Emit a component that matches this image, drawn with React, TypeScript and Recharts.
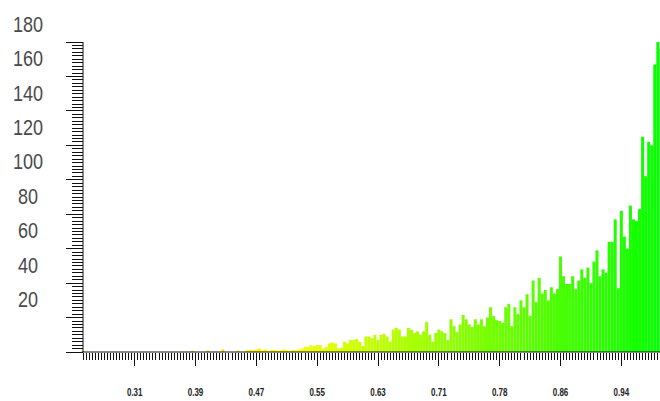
import { BarChart, Bar, XAxis, YAxis, Cell } from "recharts";

// histogram bins are i/255, first visible bin is 63
const FIRST_BIN = 63;

// counts for bins 63..127
const countsLow = [
  0.5, 0, 0, 0, 0, 0, 0, 0, 0, 0, 0, 0, 0, 0, 0, 0, 0, 0, 0, 0,
  0, 0, 0, 0, 0, 0, 0, 0, 0, 0, 0, 0, 0, 0, 0, 0, 0.6, 0, 0, 0,
  0, 0.8, 0, 0, 0, 0, 1.5, 0, 0, 0, 0, 0.8, 0, 0, 1, 1.2, 1, 1.5,
  2, 1, 1.5, 0.5, 1, 1.2, 0.8,
];

// counts for bins 128..191
const countsMid = [
  1, 1.5, 1, 0.7, 1.2, 1, 1.5, 2, 3, 3, 4, 3.5, 4, 4, 2, 3, 5, 5.5, 5, 2,
  2.5, 6, 5, 7, 7, 7.5, 6, 3.5, 9, 9, 8, 10, 7, 10, 10.5, 9, 6, 13, 14, 13,
  9, 9, 14, 13, 11, 12, 10, 12, 17.5, 10, 6, 11, 13, 12, 11, 7, 19, 15, 11.5, 16,
  21.5, 19, 16, 14.5,
];

// counts for bins 192..255
const countsHigh = [
  19, 16, 19, 15, 20, 26, 21, 18.5, 18, 17, 26, 28, 15, 26, 22, 30, 26, 33.5,
  21, 41.5, 29, 43, 34, 36, 30, 37.6, 34, 36.5, 55.4, 44, 39.5, 39.5, 44, 36.5,
  41.5, 48, 43, 49, 40, 52.5, 59, 44, 48, 46, 64, 64, 77, 37, 82, 67, 60, 85,
  77, 76, 83, 125, 102, 122, 120, 167, 180, 176, 170, 165,
];

const xMajorBins = [80, 100, 120, 140, 160, 180, 200, 220, 240];
const xTickLabels = ["0.31", "0.39", "0.47", "0.55", "0.63", "0.71", "0.78", "0.86", "0.94"];
const yMajorTicks = [20, 40, 60, 80, 100, 120, 140, 160, 180];

const allCounts = [...countsLow, ...countsMid, ...countsHigh];
const data = allCounts.map((count, k) => ({ bin: FIRST_BIN + k, count }));
const xTicks = data.map((d) => d.bin);
const yTicks: number[] = [];
for (let v = 0; v <= 180; v += 2) yTicks.push(v);

const FONT = "'Liberation Sans', Arial, sans-serif";

function XTick(props: any) {
  const { x, y, payload } = props;
  const k = xMajorBins.indexOf(payload.value);
  const major = k >= 0;
  return (
    <g>
      <line
        x1={x}
        x2={x}
        y1={y + 1}
        y2={y + (major ? 14 : 8)}
        stroke="#111"
        strokeWidth={1}
        shapeRendering="crispEdges"
      />
      {major && (
        <text
          transform={`translate(${x},${y + 41}) scale(0.8,1)`}
          textAnchor="middle"
          dominantBaseline="central"
          fontSize={10}
          fontWeight="bold"
          fontFamily={FONT}
          fill="#222"
        >
          {xTickLabels[k]}
        </text>
      )}
    </g>
  );
}

function YTick(props: any) {
  const { x, y, payload } = props;
  const v = payload.value as number;
  const major = v % 20 === 0;
  return (
    <g>
      <line
        x1={x - (major ? 17 : 11)}
        x2={x}
        y1={y}
        y2={y}
        stroke="#111"
        strokeWidth={1}
        shapeRendering="crispEdges"
      />
      {major && yMajorTicks.includes(v) && (
        <text
          transform={`translate(${x - 55},${y - 18}) scale(0.82,1)`}
          textAnchor="middle"
          dominantBaseline="central"
          fontSize={22}
          fontFamily={FONT}
          fill="#4a4a4a"
        >
          {v}
        </text>
      )}
    </g>
  );
}

export default function App() {
  return (
    <div
      style={{
        position: "fixed",
        left: 0,
        top: 0,
        width: 660,
        height: 401,
        overflow: "hidden",
        background: "#fff",
      }}
    >
      <BarChart
        width={700}
        height={401}
        data={data}
        margin={{ top: 42, right: 30, bottom: 0, left: 0 }}
        barCategoryGap={0}
        barGap={0}
      >
        <XAxis
          type="number"
          dataKey="bin"
          domain={[FIRST_BIN, 256]}
          ticks={xTicks}
          interval={0}
          tick={(p: any) => <XTick {...p} />}
          tickLine={false}
          tickSize={0}
          tickMargin={0}
          axisLine={{ stroke: "#111" }}
          height={49}
        />
        <YAxis
          type="number"
          domain={[0, 180]}
          ticks={yTicks}
          interval={0}
          width={83}
          tick={(p: any) => <YTick {...p} />}
          tickLine={false}
          tickSize={0}
          tickMargin={0}
          axisLine={{ stroke: "#111" }}
        />
        <Bar dataKey="count" isAnimationActive={false}>
          {data.map((d) => (
            <Cell key={d.bin} fill={`hsl(${(120 * d.bin) / 255}, 100%, 50%)`} />
          ))}
        </Bar>
      </BarChart>
    </div>
  );
}
